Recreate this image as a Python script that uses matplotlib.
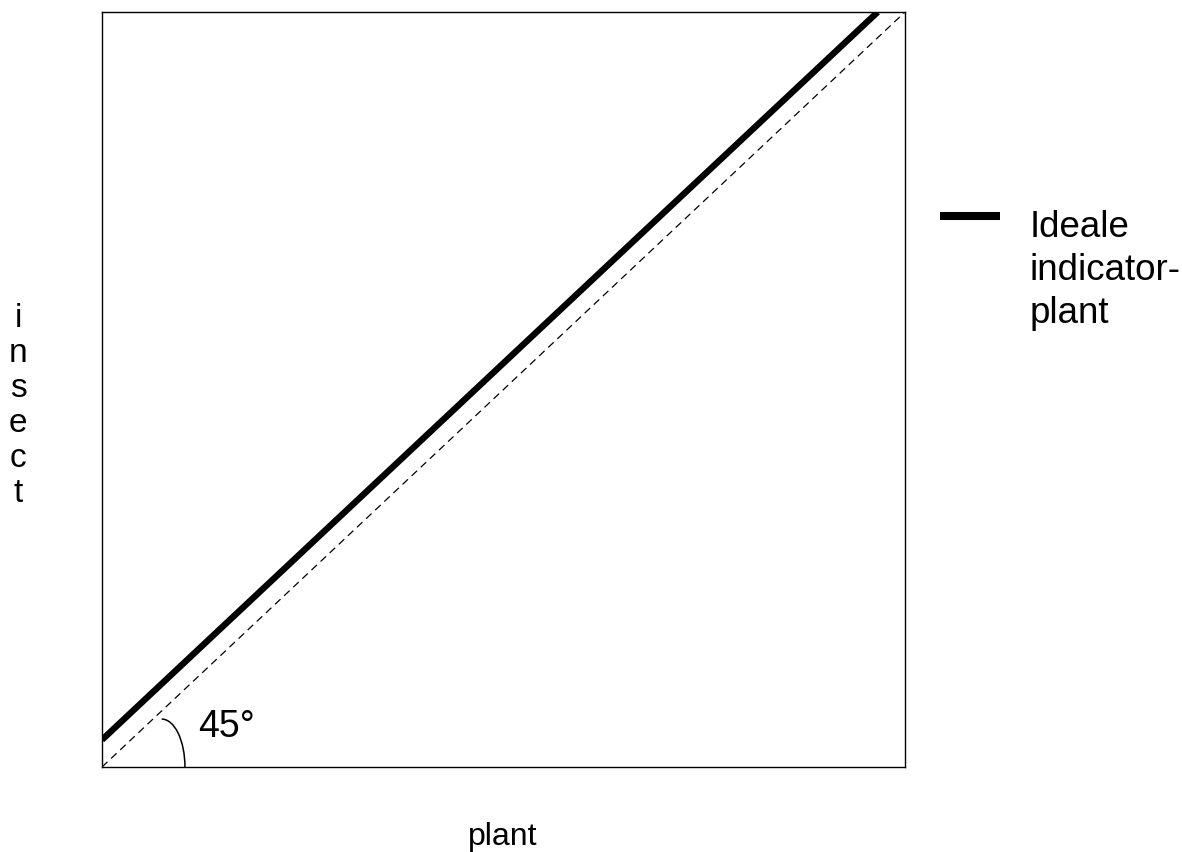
import matplotlib
matplotlib.use("Agg")
import matplotlib.pyplot as plt
from matplotlib.patches import Arc
from matplotlib.lines import Line2D

plt.rcParams['font.family'] = ['Liberation Sans', 'DejaVu Sans']

# data (axes run 0..1 on both sides)
ref_x = [0.0, 1.0]          # 45 degree reference line
ref_y = [0.0, 1.0]
ideal_x = [0.0, 0.966]      # ideal indicator plant
ideal_y = [0.036, 1.0]
legend_label = "Ideale\nindicator-\nplant"
angle_label = "45°"
x_label = "plant"
y_label = "insect"

fig = plt.figure(figsize=(11.82, 8.53), dpi=100)
ax = fig.add_axes([102 / 1182, 1 - 768 / 853, 803 / 1182, 755 / 853])
ax.set_xlim(0, 1)
ax.set_ylim(0, 1)
ax.set_xticks([])
ax.set_yticks([])
for s in ax.spines.values():
    s.set_linewidth(1.0)

ax.plot(ref_x, ref_y, color='black', lw=0.9, dashes=(6, 4))
ax.plot(ideal_x, ideal_y, color='black', lw=4.6, solid_capstyle='butt')

# angle marker
ax.add_patch(Arc((0.0743, 0.0), 0.058, 0.127, theta1=0, theta2=90,
                 color='black', lw=1.1))
ax.text(0.1196, 0.041, angle_label, fontsize=27, va='baseline', ha='left')

# axis labels
fig.text(503 / 1182, 1 - 845 / 853, x_label, fontsize=23, ha='center', va='baseline')
fig.text(18 / 1182, 1 - 406 / 853, "\n".join(y_label), fontsize=24, ha='center',
         va='center', linespacing=1.16)

# legend
fig.add_artist(Line2D([940 / 1182, 1000 / 1182], [1 - 217 / 853, 1 - 217 / 853],
                      color='black', lw=5.8, solid_capstyle='butt'))
fig.text(1030 / 1182, 1 - 210 / 853, legend_label, fontsize=26.5, ha='left', va='top',
         linespacing=1.3)

fig.savefig("out.png", dpi=100)
